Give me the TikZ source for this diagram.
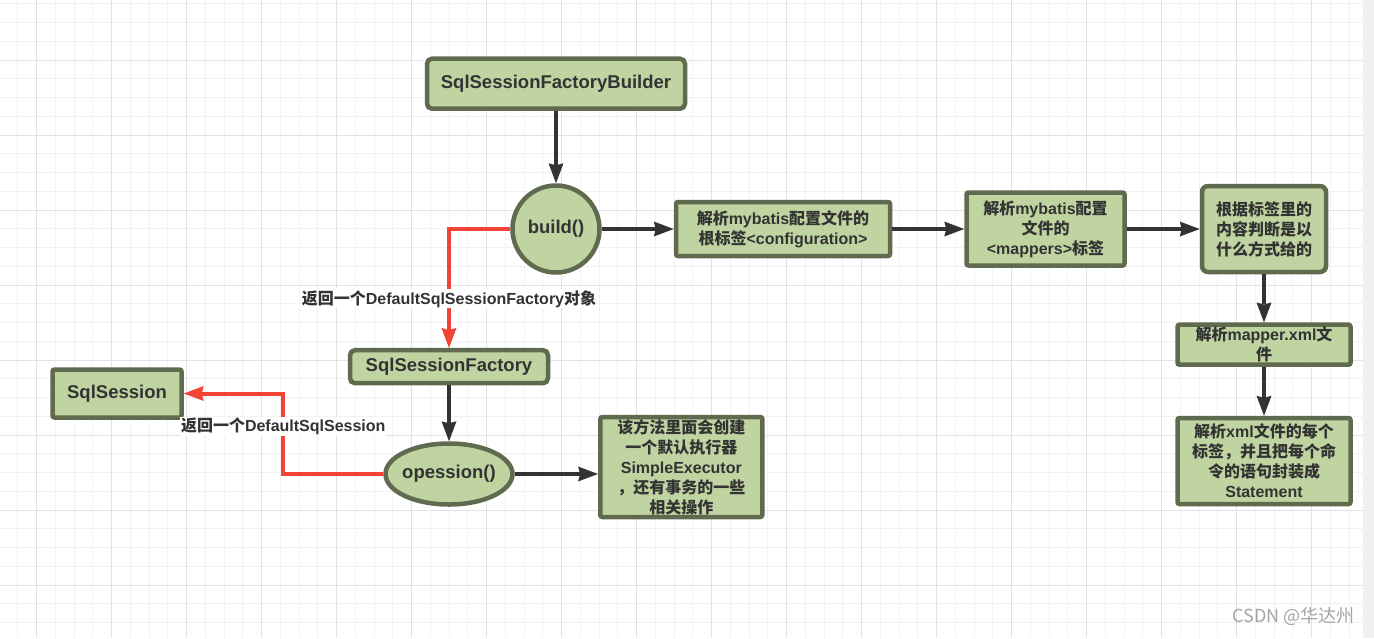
\documentclass[tikz,border=0pt]{standalone}
\usepackage{fontspec}
\setmainfont{Liberation Sans}
\newfontfamily\cjkfont{Noto Sans CJK SC}
\usepackage{xcolor}
\usepackage{tikz}
\usetikzlibrary{shapes.geometric, arrows.meta, positioning, calc}

\definecolor{boxfill}{RGB}{192,212,161}
\definecolor{boxline}{RGB}{96,106,79}
\definecolor{inkdark}{RGB}{51,51,51}
\definecolor{retred}{RGB}{242,67,54}
\definecolor{gridminor}{RGB}{242,242,242}
\definecolor{gridmajor}{RGB}{226,226,226}
\definecolor{stripgray}{RGB}{240,240,240}
\definecolor{markgray}{RGB}{165,165,165}

\newcommand{\zh}[1]{{\cjkfont #1}}
\newcommand{\titlefont}{\fontsize{18.5}{22}\selectfont\bfseries}
\newcommand{\boxfont}{\fontsize{16}{20}\selectfont\bfseries}
\newcommand{\markfont}{\cjkfont\fontsize{18}{20}\selectfont}

\begin{document}
\begin{tikzpicture}[x=1pt, y=-1pt,
  box/.style={draw=boxline, fill=boxfill, line width=4.5pt, rounded corners=2pt,
    text=inkdark, font=\boxfont, align=center, inner sep=0pt},
  title/.style={box, font=\titlefont},
  flow/.style={draw=inkdark, line width=4.5pt,
    -{Stealth[length=20pt, width=15pt, inset=2pt, line width=0pt]}},
  retflow/.style={draw=retred, line width=4pt,
    -{Stealth[length=20pt, width=15pt, inset=2pt, line width=0pt]}},
  lbl/.style={fill=white, text=inkdark, font=\boxfont, inner sep=1pt}]
  \useasboundingbox (0,0) rectangle (1374,638);

  % Grid paper behind everything
  \fill[white] (0,0) rectangle (1374,638);
  \foreach \gx in {17.75,36.5,...,1363}
    \draw[gridminor, line width=1pt] (\gx,0) -- (\gx,638);
  \foreach \gy in {3.75,22.5,...,638}
    \draw[gridminor, line width=1pt] (0,\gy) -- (1363,\gy);
  \foreach \gx in {36.5,111.5,...,1363}
    \draw[gridmajor, line width=1pt] (\gx,0) -- (\gx,638);
  \foreach \gy in {60,135,...,638}
    \draw[gridmajor, line width=1pt] (0,\gy) -- (1363,\gy);
  \fill[stripgray] (1363,0) rectangle (1374,638);

  % Builder and the build() call
  \node[title, rounded corners=5pt, minimum width=258pt, minimum height=50pt] (fbuilder) at (556,83.7) {SqlSessionFactoryBuilder};
  \node[title, circle, minimum size=87pt] (build) at (556,229) {build()};

  % Parsing chain to the right
  \node[box, minimum width=214pt, minimum height=54pt] (rootcfg) at (783,229)
    {\zh{解析}mybatis\zh{配置文件的}\\\zh{根标签}<configuration>};
  \node[box, minimum width=158pt, minimum height=73pt] (mappers) at (1045.5,229)
    {\zh{解析}mybatis\zh{配置}\\\zh{文件的}\\<mappers>\zh{标签}};
  \node[box, rounded corners=6pt, minimum width=124pt, minimum height=86pt] (judge) at (1264,229)
    {\zh{根据标签里的}\\\zh{内容判断是以}\\\zh{什么方式给的}};
  \node[box, minimum width=173pt, minimum height=40pt] (mapxml) at (1264,344.7)
    {\zh{解析}mapper.xml\zh{文}\\\zh{件}};
  \node[box, minimum width=173pt, minimum height=86pt] (stmt) at (1264,461)
    {\zh{解析}xml\zh{文件的每个}\\\zh{标签，并且把每个命}\\\zh{令的语句封装成}\\Statement};

  % Factory, session and executor
  \node[title, rounded corners=5pt, minimum width=198pt, minimum height=33pt] (sqlfac) at (449,366.7) {SqlSessionFactory};
  \node[title, ellipse, inner xsep=-4pt, minimum width=127pt, minimum height=61pt] (opession) at (449,474) {opession()};
  \node[title, minimum width=129pt, minimum height=48pt] (sqlsess) at (117,393.5) {SqlSession};
  \node[box, minimum width=162pt, minimum height=100pt] (executor) at (681.3,467)
    {\zh{该方法里面会创建}\\\zh{一个默认执行器}\\SimpleExecutor\\\zh{，还有事务的一些}\\\zh{相关操作}};

  % Black flow arrows
  \draw[flow] (fbuilder) -- (build);
  \draw[flow] (build) -- (rootcfg);
  \draw[flow] (rootcfg) -- (mappers);
  \draw[flow] (mappers) -- (judge);
  \draw[flow] (judge) -- (mapxml);
  \draw[flow] (mapxml) -- (stmt);
  \draw[flow] (sqlfac) -- (opession);
  \draw[flow] (opession.east) -- (opession.east -| executor.west);

  % Red return arrows
  \draw[retflow] (build.west) -| node[lbl, pos=0.794] (retfac)
    {\zh{返回一个}DefaultSqlSessionFactory\zh{对象}} (sqlfac.north);
  \coordinate (retbend) at ([xshift=-100pt]opession.west);
  \draw[retflow] (opession.west) -- (retbend) |- node[lbl, pos=0.294] (retsess)
    {\zh{返回一个}DefaultSqlSession} (sqlsess.east);

  % Watermark
  \node[font=\markfont, text=markgray, inner sep=0pt] (csdn) at (1293.5,616.7) {CSDN @华达州};
\end{tikzpicture}
\end{document}
